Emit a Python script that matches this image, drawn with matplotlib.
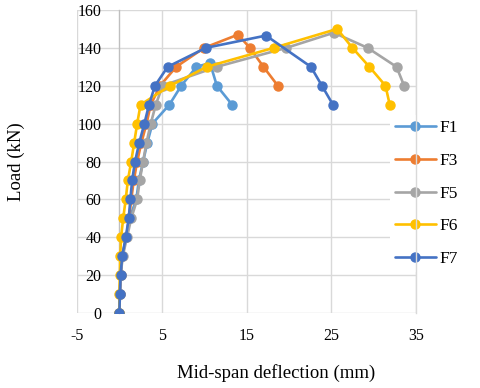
import numpy as np
import matplotlib
matplotlib.use("Agg")
import matplotlib.pyplot as plt

# mid-span deflection (mm) and load (kN)
f1_defl = [0, 0.06, 0.15, 0.35, 0.8, 1.2, 2.0, 2.3, 2.8, 3.3, 3.9, 5.9, 7.3, 9.1, 10.7, 11.5, 13.3]
f1_load = [0, 10, 20, 30, 40, 50, 60, 70, 80, 90, 100, 110, 120, 130, 132, 120, 110]

f3_defl = [0, 0.06, 0.15, 0.35, 0.8, 1.15, 1.4, 1.7, 2.1, 2.6, 3.2, 3.7, 4.8, 6.7, 10.0, 14.0, 15.4, 17.0, 18.7]
f3_load = [0, 10, 20, 30, 40, 50, 60, 70, 80, 90, 100, 110, 120, 130, 140, 147, 140, 130, 120]

f5_defl = [0, 0.06, 0.15, 0.4, 0.9, 1.4, 2.1, 2.4, 2.8, 3.2, 3.7, 4.3, 5.1, 11.5, 19.7, 25.3, 29.3, 32.7, 33.6]
f5_load = [0, 10, 20, 30, 40, 50, 60, 70, 80, 90, 100, 110, 120, 130, 140, 148, 140, 130, 120]

f6_defl = [0, 0.0, 0.05, 0.1, 0.2, 0.45, 0.75, 1.0, 1.4, 1.75, 2.1, 2.5, 6.0, 10.3, 18.2, 25.7, 27.5, 29.5, 31.4, 31.9]
f6_load = [0, 10, 20, 30, 40, 50, 60, 70, 80, 90, 100, 110, 120, 130, 140, 150, 140, 130, 120, 110]

f7_defl = [0, 0.06, 0.14, 0.33, 0.76, 1.1, 1.3, 1.5, 1.85, 2.35, 2.95, 3.5, 4.2, 5.7, 10.2, 17.3, 22.6, 23.9, 25.2]
f7_load = [0, 10, 20, 30, 40, 50, 60, 70, 80, 90, 100, 110, 120, 130, 140, 146.5, 130, 120, 110]

labels = ["F1", "F3", "F5", "F6", "F7"]
colors = ["#5B9BD5", "#ED7D31", "#A5A5A5", "#FFC000", "#4472C4"]
series = [(f1_defl, f1_load), (f3_defl, f3_load), (f5_defl, f5_load),
          (f6_defl, f6_load), (f7_defl, f7_load)]

plt.rcParams["font.family"] = ["Liberation Serif", "DejaVu Serif"]
plt.rcParams["axes.unicode_minus"] = False

fig = plt.figure(figsize=(4.8, 3.88), dpi=100)
ax = fig.add_axes([77 / 480, 1 - 313 / 388, (416 - 77) / 480, (313 - 10) / 388])

for (x, y), lab, c in zip(series, labels, colors):
    ax.plot(x, y, color=c, lw=1.9, marker="o", ms=6.5, label=lab, zorder=3,
            solid_capstyle="round")

ax.set_xlim(-5, 35)
ax.set_ylim(0, 160)
ax.set_xticks(np.arange(-5, 36, 10))
ax.set_yticks(np.arange(0, 161, 20))
ax.set_axisbelow(True)
ax.grid(True, color="#D9D9D9", lw=1.0)

for s in ["top", "bottom"]:
    ax.spines[s].set_visible(False)
ax.spines["right"].set_color("#D9D9D9")
ax.spines["right"].set_linewidth(1.0)
ax.spines["left"].set_position(("data", 0))
ax.spines["left"].set_color("#BFBFBF")
ax.spines["left"].set_linewidth(1.0)

ax.tick_params(axis="both", length=0, labelsize=11.5, colors="black")
ax.tick_params(axis="y", pad=13)
ax.tick_params(axis="x", pad=11)

ax.set_xlabel("Mid-span deflection (mm)", fontsize=13.5)
ax.xaxis.set_label_coords((276 - 77) / (416 - 77), -(373 - 313) / (313 - 10) + 0.03)
ax.set_ylabel("Load (kN)", fontsize=13.5)
ax.yaxis.set_label_coords(-(77 - 25) / (416 - 77), 0.5)

leg = ax.legend(loc="center left", bbox_to_anchor=(381 / 480, 1 - 193.5 / 388),
                bbox_transform=fig.transFigure, frameon=True, fontsize=12.5,
                handlelength=2.36, labelspacing=0.95, borderpad=0.3, handletextpad=0.23)
leg.get_frame().set_edgecolor("none")
leg.get_frame().set_facecolor("white")
leg.get_frame().set_alpha(1)
leg.set_zorder(2.4)

fig.savefig("out.png", dpi=100)
